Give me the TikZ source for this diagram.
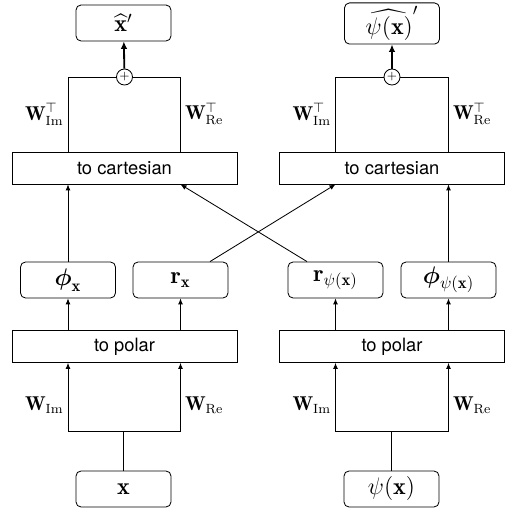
\documentclass[tikz,border=0pt]{standalone}
\usepackage{amsmath}
\usepackage{amssymb}
\usepackage{fontspec}
\setsansfont{TeX Gyre Heros}
\usetikzlibrary{arrows.meta, positioning, calc}

\begin{document}
\begin{tikzpicture}[
    x=0.6pt, y=-0.6pt,
    line width=0.5pt,
    font=\fontsize{11}{13}\selectfont,
    box/.style={draw, rounded corners=3pt, minimum width=57pt, minimum height=21.6pt, inner sep=2pt, align=center, font=\Large},
    block/.style={draw, minimum width=135pt, minimum height=19.2pt, font=\fontsize{11}{13}\selectfont\sffamily},
    sum/.style={draw, circle, inner sep=0pt, minimum size=9.6pt, font=\scriptsize},
    wlabel/.style={font=\large, inner sep=2.5pt},
    arrow/.style={-{Latex[length=3.6pt,width=3pt]}},
    outarrow/.style={-{Latex[length=4.5pt,width=4pt]}, line width=1.1pt}
]
\useasboundingbox (0,0) rectangle (511,508);

% inputs
\node[box] (x_in) at (123.5,489) {$\mathbf{x}$};
\node[box] (psi_in) at (391.5,489) {$\psi(\mathbf{x})$};
\coordinate (split_l) at (123.5,431);
\coordinate (split_r) at (391.5,431);

% polar conversion
\node[block] (polar_l) at (124.5,346.5) {to polar};
\node[block] (polar_r) at (392,346.5) {to polar};

% magnitudes and phases
\node[box] (phi_x) at (68,280) {$\boldsymbol{\phi}_{\mathbf{x}}$};
\node[box] (r_x) at (180.5,280) {$\mathbf{r}_{\mathbf{x}}$};
\node[box] (r_psi) at (335.5,280) {$\mathbf{r}_{\psi(\mathbf{x})}$};
\node[box] (phi_psi) at (448.5,280) {$\boldsymbol{\phi}_{\psi(\mathbf{x})}$};

% cartesian conversion
\node[block] (cart_l) at (124.5,168) {to cartesian};
\node[block] (cart_r) at (392,168) {to cartesian};

% sums and outputs
\node[sum] (plus_l) at (124.5,77) {$+$};
\node[sum] (plus_r) at (392,77) {$+$};
\node[box] (out_x) at (123.5,23) {$\widehat{\mathbf{x}}'$};
\node[box] (out_psi) at (392,23.5) {$\widehat{\psi(\mathbf{x})}'$};

% input weights
\draw (x_in) -- (split_l);
\draw[arrow] (split_l) -| node[wlabel, pos=0.69, left] {$\mathbf{W}_{\mathrm{Im}}$} (polar_l.south -| phi_x);
\draw[arrow] (split_l) -| node[wlabel, pos=0.69, right] {$\mathbf{W}_{\mathrm{Re}}$} (polar_l.south -| r_x);
\draw (psi_in) -- (split_r);
\draw[arrow] (split_r) -| node[wlabel, pos=0.69, left] {$\mathbf{W}_{\mathrm{Im}}$} (polar_r.south -| r_psi);
\draw[arrow] (split_r) -| node[wlabel, pos=0.69, right] {$\mathbf{W}_{\mathrm{Re}}$} (polar_r.south -| phi_psi);

% polar outputs
\draw[arrow] (polar_l.north -| phi_x) -- (phi_x);
\draw[arrow] (polar_l.north -| r_x) -- (r_x);
\draw[arrow] (polar_r.north -| r_psi) -- (r_psi);
\draw[arrow] (polar_r.north -| phi_psi) -- (phi_psi);

% swap magnitudes
\draw[arrow] (phi_x) -- (cart_l.south -| phi_x);
\draw[arrow] ([xshift=17.7pt]r_x.north) -- (cart_r.south -| r_psi);
\draw[arrow] ([xshift=-17.1pt]r_psi.north) -- (cart_l.south -| r_x);
\draw[arrow] (phi_psi) -- (cart_r.south -| phi_psi);

% output weights
\draw (cart_l.north -| phi_x) |- node[wlabel, pos=0.25, left] {$\mathbf{W}_{\mathrm{Im}}^{\top}$} (plus_l.west);
\draw (cart_l.north -| r_x) |- node[wlabel, pos=0.25, right] {$\mathbf{W}_{\mathrm{Re}}^{\top}$} (plus_l.east);
\draw (cart_r.north -| r_psi) |- node[wlabel, pos=0.25, left] {$\mathbf{W}_{\mathrm{Im}}^{\top}$} (plus_r.west);
\draw (cart_r.north -| phi_psi) |- node[wlabel, pos=0.25, right] {$\mathbf{W}_{\mathrm{Re}}^{\top}$} (plus_r.east);
\draw[outarrow] (plus_l) -- (out_x);
\draw[outarrow] (plus_r) -- (out_psi);

\end{tikzpicture}
\end{document}
